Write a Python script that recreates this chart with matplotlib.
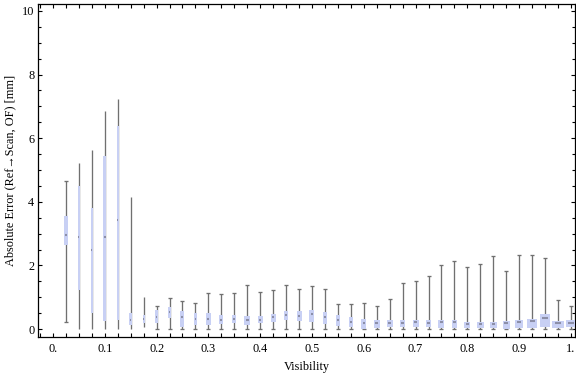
import numpy as np
import matplotlib
matplotlib.use("Agg")
import matplotlib.pyplot as plt
from matplotlib.ticker import MultipleLocator, FixedLocator, FixedFormatter

plt.rcParams['font.family'] = ['Liberation Serif', 'DejaVu Serif']

# ---- data ----
positions = np.round(np.arange(1, 41) * 0.025, 3)   # visibility bins
mins = [0.21, 0.0, 0.0, 0.0, 0.01, 0.0, 0.05, 0.0, 0.0, 0.0,
        0.0, 0.0, 0.0, 0.0, 0.0, 0.0, 0.0, 0.0, 0.0, 0.0,
        0.0, 0.0, 0.0, 0.0, 0.0, 0.0, 0.0, 0.0, 0.0, 0.0,
        0.0, 0.0, 0.0, 0.0, 0.0, 0.0, 0.0, 0.0, 0.0, 0.0]
q1s = [2.63, 1.23, 0.51, 0.24, 0.30, 0.13, 0.20, 0.18, 0.35, 0.08,
       0.13, 0.13, 0.16, 0.18, 0.13, 0.19, 0.22, 0.28, 0.25, 0.23,
       0.17, 0.10, 0.07, 0.01, 0.04, 0.07, 0.07, 0.07, 0.07, 0.02,
       0.03, 0.04, 0.04, 0.04, 0.01, 0.04, 0.04, 0.07, 0.04, 0.07]
medians = [2.97, 2.90, 2.50, 2.90, 3.43, 0.30, 0.32, 0.39, 0.53, 0.37,
           0.32, 0.31, 0.30, 0.31, 0.28, 0.30, 0.37, 0.43, 0.42, 0.46,
           0.37, 0.27, 0.22, 0.18, 0.18, 0.20, 0.18, 0.22, 0.18, 0.21,
           0.21, 0.15, 0.16, 0.16, 0.19, 0.22, 0.26, 0.34, 0.19, 0.19]
q3s = [3.55, 4.50, 3.82, 5.44, 6.38, 0.51, 0.44, 0.60, 0.69, 0.57,
       0.51, 0.51, 0.44, 0.44, 0.41, 0.41, 0.47, 0.57, 0.57, 0.60,
       0.53, 0.44, 0.39, 0.31, 0.28, 0.28, 0.28, 0.28, 0.28, 0.28,
       0.28, 0.23, 0.23, 0.23, 0.25, 0.28, 0.31, 0.47, 0.25, 0.28]
maxs = [4.65, 5.23, 5.63, 6.86, 7.23, 4.15, 1.02, 0.71, 0.97, 0.87,
        0.81, 1.12, 1.10, 1.12, 1.37, 1.15, 1.22, 1.37, 1.25, 1.34,
        1.25, 0.78, 0.78, 0.81, 0.74, 0.93, 1.44, 1.50, 1.66, 2.00,
        2.13, 1.94, 2.03, 2.29, 1.84, 2.32, 2.32, 2.22, 0.90, 0.71]
# box widths (x units), the boxes vary in width in the reference
box_widths = np.array([3.7, 1.3, 1.3, 3.0, 2.3, 2.7, 2.0, 2.3, 2.5, 4.0,
                       3.7, 4.3, 4.0, 4.3, 5.7, 4.7, 5.0, 4.7, 5.0, 5.0,
                       4.3, 4.3, 4.3, 5.0, 5.7, 5.7, 5.7, 6.0, 5.7, 6.0,
                       5.7, 6.0, 6.7, 7.0, 7.0, 8.0, 9.5, 10.8, 11.2, 10.5]) / 518.0
has_caps = [True, False, False, False, False, False, False] + [True] * 33

x_ticks = [0.0, 0.1, 0.2, 0.3, 0.4, 0.5, 0.6, 0.7, 0.8, 0.9, 1.0]
x_labels = ["0.", "0.1", "0.2", "0.3", "0.4", "0.5", "0.6", "0.7", "0.8", "0.9", "1."]
y_ticks = [0, 2, 4, 6, 8, 10]

# ---- style ----
whisker_color = "#707070"
box_color = "#c8d0f4"
median_color = "#8c8fa8"
cap_w = 4.0 / 518.0

fig = plt.figure(figsize=(5.76, 3.77), dpi=100)
ax = fig.add_axes([0.0655, 0.1061, 0.9336, 0.8825])

pos = np.asarray(positions)
mins_a = np.asarray(mins); maxs_a = np.asarray(maxs)
q1a = np.asarray(q1s); q3a = np.asarray(q3s); med = np.asarray(medians)
caps = np.asarray(has_caps)

ax.vlines(pos, mins_a, maxs_a, color=whisker_color, lw=0.95, zorder=2)
ax.hlines(maxs_a[caps], pos[caps] - cap_w / 2, pos[caps] + cap_w / 2,
          color=whisker_color, lw=0.95, zorder=2)
ax.hlines(mins_a[caps], pos[caps] - cap_w / 2, pos[caps] + cap_w / 2,
          color=whisker_color, lw=0.95, zorder=2)
ax.bar(pos, q3a - q1a, bottom=q1a, width=box_widths, color=box_color,
       edgecolor='none', zorder=3)
mw = np.maximum(box_widths * 0.5, 1.0 / 518.0)
ax.hlines(med, pos - mw / 2, pos + mw / 2, color=median_color, lw=1.5, zorder=4)

ax.set_xlim(-0.0295, 1.0087)
ax.set_ylim(-0.25, 10.21)

ax.xaxis.set_major_locator(FixedLocator(x_ticks))
ax.xaxis.set_major_formatter(FixedFormatter(x_labels))
ax.xaxis.set_minor_locator(MultipleLocator(0.025))
ax.yaxis.set_major_locator(FixedLocator(y_ticks))
ax.yaxis.set_minor_locator(MultipleLocator(0.5))

ax.tick_params(axis='both', which='both', direction='in', top=True, right=True,
               width=0.8, colors='black', labelsize=8.8)
ax.tick_params(axis='x', which='both', length=3.0, pad=4.5)
ax.tick_params(axis='y', which='major', length=3.0, pad=2.5)
ax.tick_params(axis='y', which='minor', length=1.9)
for s in ax.spines.values():
    s.set_linewidth(0.9)

ax.set_xlabel("Visibility", fontsize=8.8, labelpad=4)
ax.set_ylabel("Absolute Error (Ref\u2192Scan, OF) [mm]", fontsize=8.8, labelpad=4)

fig.savefig("out.png", dpi=100)
